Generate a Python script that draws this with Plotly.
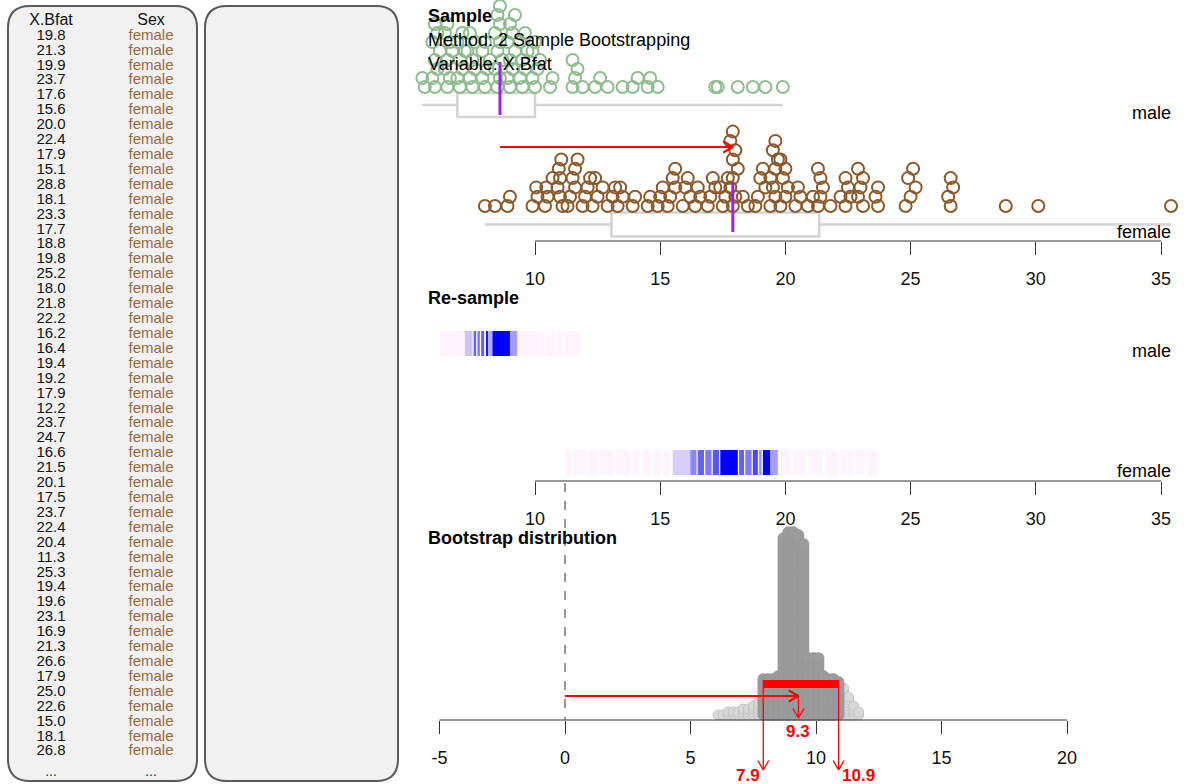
import math
import plotly.graph_objects as go

W, H = 1184, 784
FONT = "Liberation Sans, Arial, sans-serif"

# ---------------- data ----------------
table_header = ["X.Bfat", "Sex"]
table_bfat = ["19.8", "21.3", "19.9", "23.7", "17.6", "15.6", "20.0", "22.4", "17.9", "15.1",
              "28.8", "18.1", "23.3", "17.7", "18.8", "19.8", "25.2", "18.0", "21.8", "22.2",
              "16.2", "16.4", "19.4", "19.2", "17.9", "12.2", "23.7", "24.7", "16.6", "21.5",
              "20.1", "17.5", "23.7", "22.4", "20.4", "11.3", "25.3", "19.4", "19.6", "23.1",
              "16.9", "21.3", "26.6", "17.9", "25.0", "22.6", "15.0", "18.1", "26.8"]
table_sex = ["female"] * len(table_bfat)

groups = ["male", "female"]

male_bfat = [5.6, 5.5,
             6.0, 5.9, 6.1, 6.0, 6.2, 5.9, 6.1, 6.0,
             6.5, 6.6, 6.4, 6.5, 6.7, 6.6, 6.4, 6.5,
             7.0, 6.9, 7.1, 7.0, 7.2, 6.9, 7.1,
             7.5, 7.4, 7.6, 7.5, 7.3, 7.6, 7.4,
             8.0, 7.9, 8.1, 8.2, 7.9, 8.0,
             8.5, 8.6, 8.4, 8.7, 8.5, 8.6, 8.4, 8.6, 8.5, 8.6,
             9.0, 8.9, 9.1, 9.0, 9.2, 8.9, 9.1, 9.0, 9.2,
             9.5, 9.4, 9.6, 9.5, 9.7, 9.4, 9.6,
             10.0, 9.9, 10.1, 10.2, 9.9, 10.0,
             10.6, 10.7,
             11.5, 11.6, 11.7, 11.5,
             11.9, 12.4, 12.6, 12.9, 13.5, 13.9, 14.1, 14.5, 14.6, 14.9,
             17.2, 17.3, 18.1, 18.7, 19.2, 19.9]

female_bfat = [8.0, 8.4, 8.9, 9.0,
               9.9, 10.1, 10.05,
               10.4, 10.5, 10.45, 10.7,
               11.1, 11.0, 10.9, 11.0, 10.95, 11.05,
               11.3, 11.4, 11.6, 11.5, 11.6, 11.7,
               11.9, 12.0, 12.1, 12.2,
               12.3, 12.5, 12.7, 12.4,
               12.9, 13.1, 13.2,
               13.3, 13.5, 13.4,
               13.9, 14.0, 14.5, 14.6,
               14.9, 15.0, 15.1,
               15.3, 15.4, 15.6, 15.5, 15.6,
               15.9, 16.2, 16.0, 16.1,
               16.4, 16.6, 16.5,
               16.9, 17.0, 17.2, 17.1,
               17.5, 17.6, 17.4, 17.7,
               17.9, 18.0, 17.8, 17.9, 18.1, 17.9, 18.0, 17.8, 17.9,
               18.5, 18.3, 18.8,
               18.9, 19.2, 19.0, 19.1,
               19.4, 19.6, 19.5, 19.4, 19.6, 19.7, 19.5, 19.6,
               19.8, 20.0, 20.1, 19.9, 20.0, 19.8,
               20.4, 20.6, 20.5,
               20.9, 21.1,
               21.3, 21.4, 21.5, 21.4, 21.3,
               21.8, 22.2,
               22.4, 22.6, 22.5, 22.4,
               23.1, 22.9, 23.0, 23.1, 22.9,
               23.7, 23.6, 23.7,
               24.8, 25.0, 25.2, 24.9, 25.1,
               26.6, 26.5, 26.7, 26.6,
               28.8, 30.1, 35.4]

# box summaries: q1, median, q3
male_box = [6.9, 8.6, 10.0]
female_box = [13.05, 17.9, 21.35]

# re-sample bands (start, end, intensity of blue)
male_band_lo = [6.20, 7.20, 7.55, 7.70, 7.85, 8.07, 8.13, 8.30, 9.00, 9.30, 10.25, 10.45, 10.85, 11.15]
male_band_hi = [7.20, 7.50, 7.65, 7.80, 7.97, 8.13, 8.30, 9.00, 9.30, 10.18, 10.38, 10.78, 11.07, 11.80]
male_band_lvl = [0, 0.2, 0.6, 0.5, 0.6, 0.9, 0.3, 1.0, 0.35, 0, 0, 0, 0, 0]

female_band_lo = [11.2, 11.55, 12.1, 12.6, 13.25, 13.9, 14.3, 14.7, 15.1, 15.5, 16.2, 16.5, 16.8, 17.1,
                  17.4, 18.15, 18.4, 18.7, 18.95, 19.1, 19.4, 19.7, 20.3, 20.9, 21.6, 22.2, 22.8, 23.3]
female_band_hi = [11.45, 12.0, 12.5, 13.15, 13.8, 14.2, 14.6, 15.0, 15.4, 16.2, 16.45, 16.75, 17.05, 17.35,
                  18.1, 18.35, 18.65, 18.9, 19.05, 19.4, 19.7, 20.2, 20.8, 21.5, 22.1, 22.7, 23.2, 23.7]
female_band_lvl = [0, 0, 0, 0, 0, 0, 0, 0, 0, 0.15, 0.45, 0.6, 0.5, 0.65,
                   1.0, 0.6, 0.5, 0.7, 0.4, 1.0, 0.35, 0, 0, 0, 0, 0, 0, 0]

# bootstrap distribution of difference (bin centre, count)
boot_centers = [6.1, 6.3, 6.5, 6.7, 6.9, 7.1, 7.3, 7.5, 7.7, 7.9, 8.1, 8.3, 8.5, 8.7, 8.9,
                9.1, 9.3, 9.5, 9.7, 9.9, 10.1, 10.3, 10.5, 10.7, 10.9, 11.1, 11.3, 11.5, 11.7]
boot_counts = [1, 1, 2, 2, 2, 3, 3, 4, 5, 13, 13, 13, 14, 60, 62,
               62, 61, 58, 20, 20, 20, 14, 13, 13, 12, 10, 7, 4, 2]
boot_ci = [7.9, 10.9]
boot_diff = 9.3

top_ticks = [10, 15, 20, 25, 30, 35]
bot_ticks = [-5, 0, 5, 10, 15, 20]
bot_ticktext = ["-5", "0", "5", "10", "15", "20"]

# ---------------- layout helpers ----------------
S_TOP = 626 / 25.0
S_BOT = 502 / 20.0


def px_top(v):
    return 535 + (v - 10) * S_TOP


def px_bot(v):
    return 565 + v * S_BOT


top_range = [10 - 535 / S_TOP, 10 + (W - 535) / S_TOP]
bot_range = [-565 / S_BOT, (W - 565) / S_BOT]

Y_AX1, Y_AX2, Y_AX3 = 241, 481, 720

fig = go.Figure()
shapes = []
annotations = []


def rounded(x0, y0, x1, y1, r):
    return (f"M {x0+r},{y0} L {x1-r},{y0} Q {x1},{y0} {x1},{y0+r} L {x1},{y1-r} "
            f"Q {x1},{y1} {x1-r},{y1} L {x0+r},{y1} Q {x0},{y1} {x0},{y1-r} "
            f"L {x0},{y0+r} Q {x0},{y0} {x0+r},{y0} Z")


for (a, b) in [(8, 197), (205, 398)]:
    shapes.append(dict(type="path", path=rounded(a, 6, b, 781, 22), xref="x4", yref="y",
                       line=dict(color="#5a5a5a", width=2), fillcolor="#f1f1f1", layer="below"))

# table text
row_y = [36 + 14.91 * i for i in range(len(table_bfat))]
fig.add_trace(go.Scatter(x=[51, 151], y=[21, 21], text=table_header, mode="text",
                         textfont=dict(family=FONT, size=16, color="#111"),
                         xaxis="x4", yaxis="y", hoverinfo="skip", showlegend=False))
fig.add_trace(go.Scatter(x=[51] * len(table_bfat), y=row_y, text=table_bfat, mode="text",
                         textfont=dict(family=FONT, size=15, color="#111"),
                         xaxis="x4", yaxis="y", hoverinfo="skip", showlegend=False))
fig.add_trace(go.Scatter(x=[151] * len(table_sex), y=row_y, text=table_sex, mode="text",
                         textfont=dict(family=FONT, size=15, color="#9a6a3a"),
                         xaxis="x4", yaxis="y", hoverinfo="skip", showlegend=False))
fig.add_trace(go.Scatter(x=[51, 151], y=[772, 772], text=["...", "..."], mode="text",
                         textfont=dict(family=FONT, size=14, color="#333"),
                         xaxis="x4", yaxis="y", hoverinfo="skip", showlegend=False))

# panel titles (drawn beneath the dots)
fig.add_trace(go.Scatter(x=[428, 428, 428, 428, 428],
                         y=[17, 41, 65, 299, 539],
                         text=["<b>Sample</b>", "Method: 2 Sample Bootstrapping", "Variable: X.Bfat",
                               "<b>Re-sample</b>", "<b>Bootstrap distribution</b>"],
                         mode="text", textposition="middle right",
                         textfont=dict(family=FONT, size=18, color="#000"),
                         xaxis="x4", yaxis="y", hoverinfo="skip", showlegend=False))


def stack(values, base, step, width=0.5):
    cnt = {}
    ys = []
    for v in values:
        k = round(v / width)
        n = cnt.get(k, 0)
        ys.append(base - n * step)
        cnt[k] = n + 1
    return ys


# boxes + whiskers (top panel)
for vals, box, ycen in [(male_bfat, male_box, 105), (female_bfat, female_box, 224.5)]:
    shapes.append(dict(type="line", xref="x", yref="y", x0=min(vals), x1=max(vals), y0=ycen, y1=ycen,
                       line=dict(color="#d3d3d3", width=2.5), layer="below"))
    shapes.append(dict(type="rect", xref="x", yref="y", x0=box[0], x1=box[2], y0=ycen - 12, y1=ycen + 12,
                       line=dict(color="#d3d3d3", width=2.5), fillcolor="white", layer="below"))

male_y = stack(male_bfat, 87, 9.0)
female_y = stack(female_bfat, 206, 9.3)
fig.add_trace(go.Scatter(x=male_bfat, y=male_y, mode="markers", xaxis="x", yaxis="y",
                         marker=dict(symbol="circle-open", size=12, color="#8FBC8F", line=dict(width=2)),
                         showlegend=False, hoverinfo="x"))
fig.add_trace(go.Scatter(x=female_bfat, y=female_y, mode="markers", xaxis="x", yaxis="y",
                         marker=dict(symbol="circle-open", size=12, color="#8B5A2B", line=dict(width=2)),
                         showlegend=False, hoverinfo="x"))

# purple medians
shapes.append(dict(type="line", xref="x", yref="y", x0=male_box[1], x1=male_box[1], y0=62, y1=115,
                   line=dict(color="#A020F0", width=3)))
shapes.append(dict(type="line", xref="x", yref="y", x0=female_box[1], x1=female_box[1], y0=183, y1=232,
                   line=dict(color="#A020F0", width=3)))


def arrow(x0, y0, x1, y1, L=11, ang=30, width=2):
    dx, dy = x1 - x0, y1 - y0
    d = math.hypot(dx, dy)
    ux, uy = dx / d, dy / d
    a = math.radians(ang)
    out = []
    for s in (1, -1):
        rx = ux * math.cos(a) - s * uy * math.sin(a)
        ry = s * ux * math.sin(a) + uy * math.cos(a)
        out.append((x1 - L * rx, y1 - L * ry))
    xs = [x0, x1, None, out[0][0], x1, out[1][0]]
    ys = [y0, y1, None, out[0][1], y1, out[1][1]]
    fig.add_trace(go.Scatter(x=xs, y=ys, mode="lines", xaxis="x4", yaxis="y",
                             line=dict(color="#FF0000", width=width), hoverinfo="skip",
                             showlegend=False))


arrow(px_top(male_box[1]), 147, px_top(female_box[1]), 147, L=11, width=2.2)

# re-sample bands
PINK = (255, 243, 252)


def blend(a):
    return "rgb({},{},{})".format(int(PINK[0] * (1 - a)), int(PINK[1] * (1 - a)), int(PINK[2] * (1 - a) + 255 * a))


for lo, hi, lv, yc in [(male_band_lo, male_band_hi, male_band_lvl, 343.5),
                       (female_band_lo, female_band_hi, female_band_lvl, 462.5)]:
    fig.add_trace(go.Bar(base=lo, x=[h - l for l, h in zip(lo, hi)], y=[yc] * len(lo), width=25,
                         orientation="h", xaxis="x2", yaxis="y",
                         marker=dict(color=[blend(a) for a in lv], line=dict(width=0)),
                         showlegend=False, hoverinfo="skip"))

# dashed zero line
shapes.append(dict(type="line", xref="x3", yref="y", x0=0, x1=0, y0=483, y1=Y_AX3,
                   line=dict(color="#333", width=1, dash="dash")))

# bootstrap dots
bx_in, by_in, bx_out, by_out = [], [], [], []
for c, n in zip(boot_centers, boot_counts):
    inside = boot_ci[0] - 1e-9 <= c <= boot_ci[1] + 1e-9
    for k in range(n):
        if inside:
            bx_in.append(c); by_in.append(715 - 3 * k)
        else:
            bx_out.append(c); by_out.append(715 - 3 * k)
fig.add_trace(go.Scatter(x=bx_out, y=by_out, mode="markers", xaxis="x3", yaxis="y",
                         marker=dict(size=10, color="#d9d9d9", line=dict(color="#c4c4c4", width=1)),
                         showlegend=False, hoverinfo="skip"))
fig.add_trace(go.Scatter(x=bx_in, y=by_in, mode="markers", xaxis="x3", yaxis="y",
                         marker=dict(size=11, color="#9c9c9c", line=dict(color="#939393", width=0.6)),
                         showlegend=False, hoverinfo="skip"))

# CI bar and arrows
shapes.append(dict(type="rect", xref="x3", yref="y", x0=boot_ci[0], x1=boot_ci[1], y0=680, y1=688,
                   line=dict(width=0), fillcolor="#FF0000"))
arrow(px_bot(0), 696, px_bot(boot_diff), 696, L=11, width=2.2)
arrow(px_bot(boot_diff), 697, px_bot(boot_diff), 718, L=11, width=1.3)
arrow(px_bot(boot_ci[0]), 680, px_bot(boot_ci[0]), 770, L=11, width=1.3)
arrow(px_bot(boot_ci[1]), 680, px_bot(boot_ci[1]), 770, L=11, width=1.3)

red_font = dict(family=FONT, size=17, color="#FF0000")
annotations.append(dict(x=px_bot(boot_diff), y=731, xref="x4", yref="y", text=f"<b>{boot_diff}</b>",
                        showarrow=False, font=red_font, xanchor="center", yanchor="middle"))
annotations.append(dict(x=px_bot(boot_ci[0]) - 1, y=775, xref="x4", yref="y", text=f"<b>{boot_ci[0]}</b>",
                        showarrow=False, font=red_font, xanchor="right", yanchor="middle"))
annotations.append(dict(x=px_bot(boot_ci[1]) + 1, y=775, xref="x4", yref="y", text=f"<b>{boot_ci[1]}</b>",
                        showarrow=False, font=red_font, xanchor="left", yanchor="middle"))

# group labels on the right
for g, yy in zip(groups * 2, [113, 232, 351, 471]):
    annotations.append(dict(x=1173, y=yy, xref="x4", yref="y", text=g, showarrow=False,
                            font=dict(family=FONT, size=18, color="#000"), xanchor="right", yanchor="middle"))

# axis lines (first to last tick)
for ax, ticks, yy in [("x", top_ticks, Y_AX1), ("x2", top_ticks, Y_AX2), ("x3", bot_ticks, Y_AX3)]:
    shapes.append(dict(type="line", xref=ax, yref="y", x0=ticks[0], x1=ticks[-1], y0=yy, y1=yy,
                       line=dict(color="#333", width=1.2)))

axis_common = dict(domain=[0, 1], anchor="free", ticks="outside", ticklen=13, tickwidth=1.2,
                   tickcolor="#333", showline=False, showgrid=False, zeroline=False,
                   tickfont=dict(family=FONT, size=18, color="#111"), automargin=False,
                   ticklabelstandoff=8, fixedrange=True)

fig.update_layout(
    width=W, height=H, margin=dict(l=0, r=0, t=0, b=0),
    paper_bgcolor="white", plot_bgcolor="white", barmode="overlay", showlegend=False,
    xaxis=dict(range=top_range, position=1 - Y_AX1 / H, tickvals=top_ticks,
               ticktext=[str(t) for t in top_ticks], **axis_common),
    xaxis2=dict(range=top_range, position=1 - Y_AX2 / H, tickvals=top_ticks,
                ticktext=[str(t) for t in top_ticks], overlaying="x", **axis_common),
    xaxis3=dict(range=bot_range, position=1 - Y_AX3 / H, tickvals=bot_ticks,
                ticktext=bot_ticktext, overlaying="x", **axis_common),
    xaxis4=dict(range=[0, W], domain=[0, 1], overlaying="x", visible=False, anchor="free", position=0,
                fixedrange=True),
    yaxis=dict(range=[H, 0], domain=[0, 1], visible=False, anchor="free", position=0, fixedrange=True),
    shapes=shapes, annotations=annotations,
)

fig.write_html("out.html")
